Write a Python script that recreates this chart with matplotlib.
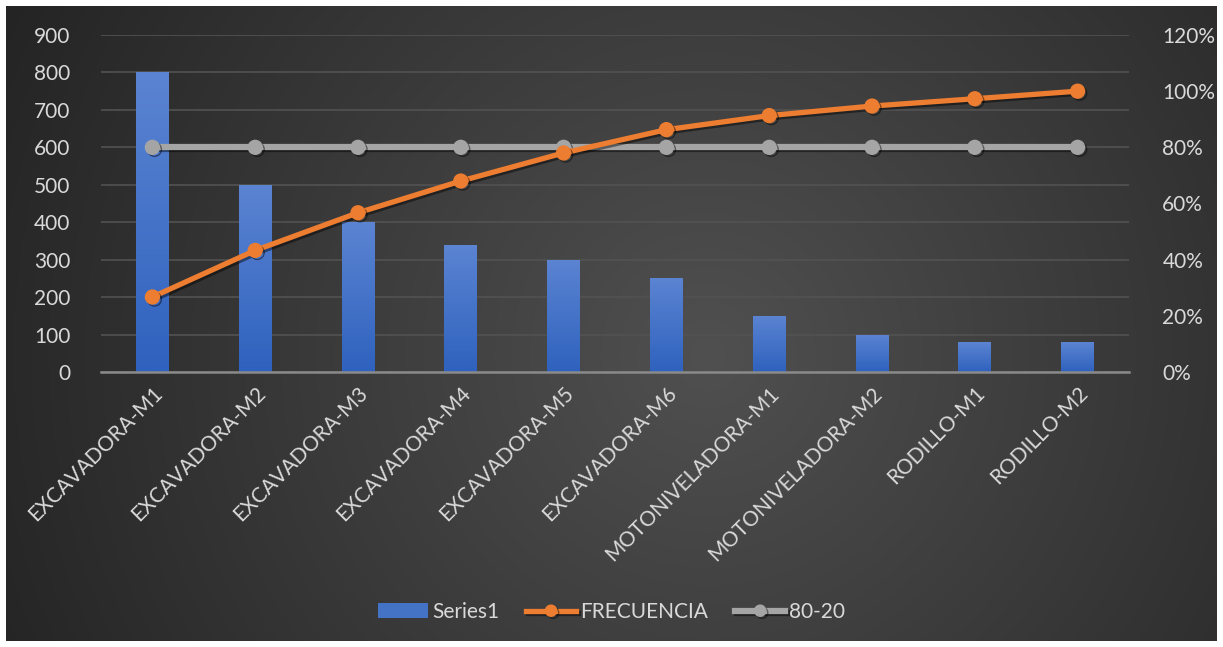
import numpy as np
import matplotlib
matplotlib.use('Agg')
import matplotlib.pyplot as plt
import matplotlib.patheffects as pe
from matplotlib.ticker import MultipleLocator, FuncFormatter

# data
maquinas = ['EXCAVADORA-M1', 'EXCAVADORA-M2', 'EXCAVADORA-M3', 'EXCAVADORA-M4',
            'EXCAVADORA-M5', 'EXCAVADORA-M6', 'MOTONIVELADORA-M1',
            'MOTONIVELADORA-M2', 'RODILLO-M1', 'RODILLO-M2']
series1 = [800, 500, 400, 340, 300, 250, 150, 100, 80, 80]
frecuencia = [0.267, 0.433, 0.567, 0.68, 0.78, 0.863, 0.913, 0.947, 0.973, 1.0]
linea_80_20 = [0.8] * 10

plt.rcParams['font.family'] = ['Lato', 'DejaVu Sans']
txt = '#d9d9d9'

W, H = 1223, 647
fig = plt.figure(figsize=(W / 100, H / 100), dpi=100, facecolor='white')

# dark radial gradient background
bg = fig.add_axes([6 / W, 6 / H, 1 - 12 / W, 1 - 12 / H], zorder=-10)
yy, xx = np.mgrid[0:1:300j, 0:1:600j]
r = np.sqrt(((xx - 0.58) * 1.9) ** 2 + ((yy - 0.45) * 1.0) ** 2)
r = np.clip(r / r.max(), 0, 1)
c0, c1 = np.array([0x50, 0x50, 0x50]) / 255, np.array([0x24, 0x24, 0x24]) / 255
img = c0[None, None, :] * (1 - r[..., None]) + c1[None, None, :] * r[..., None]
bg.imshow(img, aspect='auto', extent=[0, 1, 0, 1], origin='lower')
bg.axis('off')

ax = fig.add_axes([101 / W, 1 - 372 / H, (1129 - 101) / W, (372 - 35) / H])
ax.patch.set_alpha(0)
ax2 = ax.twinx()

x = np.arange(len(maquinas))
bars = ax.bar(x, series1, width=0.32, color='#4472C4', zorder=3)
grad = np.linspace(0, 1, 100)[:, None]
cmap = matplotlib.colors.LinearSegmentedColormap.from_list('b', ['#2f62be', '#5b84d2'])
for b in bars:
    bx = b.get_x()
    im = ax.imshow(grad, cmap=cmap, aspect='auto', origin='lower', zorder=3,
                   extent=[bx, bx + b.get_width(), 0, b.get_height()])
    im.set_clip_path(b)
    b.set_facecolor('none')

ax.set_xlim(-0.5, len(maquinas) - 0.5)
ax.set_ylim(0, 900)
ax.yaxis.set_major_locator(MultipleLocator(100))
ax.grid(axis='y', color='#525252', linewidth=1.2, zorder=0)
ax.set_axisbelow(True)
for s in ax.spines.values():
    s.set_visible(False)
ax.spines['bottom'].set_visible(True)
ax.spines['bottom'].set_color('#8a8a8a')
ax.spines['bottom'].set_linewidth(1.8)
ax.spines['bottom'].set_zorder(5)
ax.tick_params(axis='both', length=0, colors=txt, labelsize=15)
ax.tick_params(axis='y', pad=22)
ax.set_xticks(x)
ax.set_xticklabels(maquinas, rotation=45, ha='right', rotation_mode='anchor')
ax.tick_params(axis='x', pad=8)

shadow = [pe.SimpleLineShadow(offset=(1.5, -1.5), alpha=0.45, shadow_color='black'), pe.Normal()]
ax2.plot(x, linea_80_20, color='#a5a5a5', linewidth=4.5, marker='o', markersize=10,
         label='80-20', zorder=4, path_effects=shadow)
ax2.plot(x, frecuencia, color='#ED7D31', linewidth=3.8, marker='o', markersize=10,
         label='FRECUENCIA', zorder=5, path_effects=shadow)
ax2.set_ylim(0, 1.2)
ax2.yaxis.set_major_locator(MultipleLocator(0.2))
ax2.yaxis.set_major_formatter(FuncFormatter(lambda v, p: f'{v * 100:.0f}%'))
ax2.tick_params(axis='y', length=0, colors=txt, labelsize=15, pad=24)
for s in ax2.spines.values():
    s.set_visible(False)

handles = [bars, ax2.lines[1], ax2.lines[0]]
labels = ['Series1', 'FRECUENCIA', '80-20']
leg = fig.legend(handles, labels, loc='center', bbox_to_anchor=(0.5, 1 - 612 / H), ncol=3,
                 frameon=False, fontsize=15, handlelength=2.4, handletextpad=0.2,
                 columnspacing=1.3, labelcolor=txt)
leg.legend_handles[0].set_facecolor('#4472C4')
leg.legend_handles[1].set_markersize(8)
leg.legend_handles[2].set_markersize(8)

fig.savefig('out.png', dpi=100, facecolor='white')
